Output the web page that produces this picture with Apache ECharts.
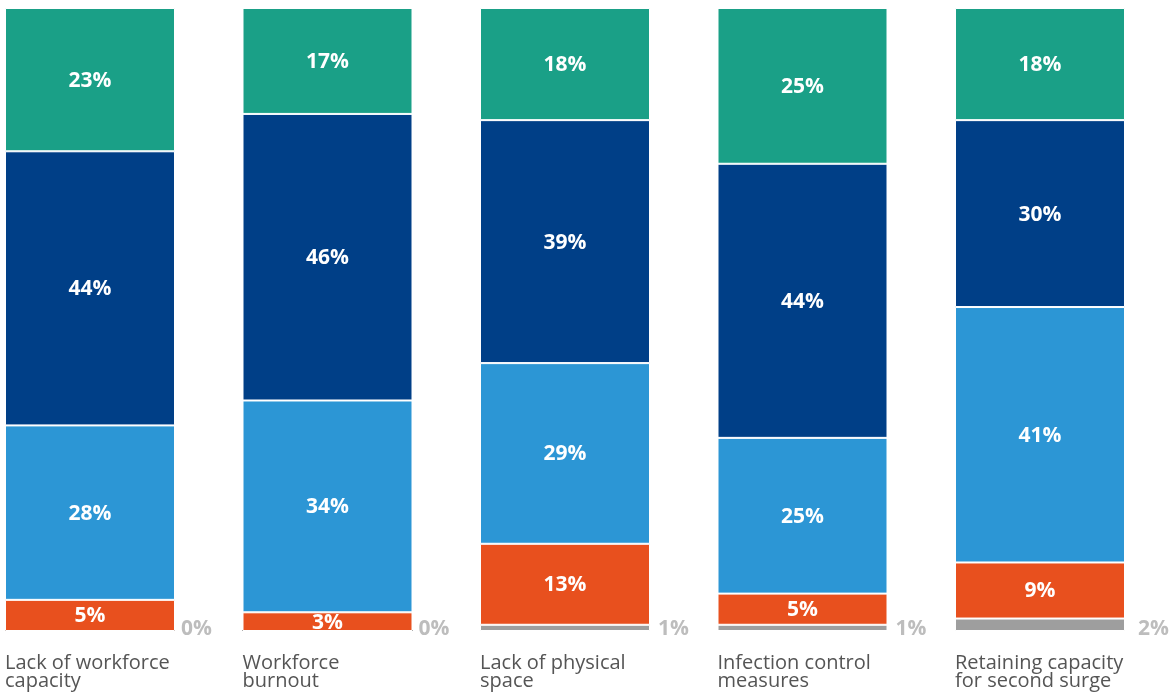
<!DOCTYPE html>
<html>
<head>
<meta charset="utf-8">
<script src="https://cdn.jsdelivr.net/npm/echarts@6/dist/echarts.min.js"></script>
<style>
html,body{margin:0;padding:0;background:#fff;}
#c{width:1172px;height:693px;}
</style>
</head>
<body>
<div id="c"></div>
<script>
const categories = [
  ['Lack of workforce', 'capacity'],
  ['Workforce', 'burnout'],
  ['Lack of physical', 'space'],
  ['Infection control', 'measures'],
  ['Retaining capacity', 'for second surge']
];
const grayVals = [0, 0, 1, 1, 2];
const orangeVals = [5, 3, 13, 5, 9];
const lightBlueVals = [28, 34, 29, 25, 41];
const darkBlueVals = [44, 46, 39, 44, 30];
const greenVals = [23, 17, 18, 25, 18];

const FONT = '"Open Sans", "Noto Sans", sans-serif';
const chart = echarts.init(document.getElementById('c'), null, {renderer: 'canvas'});

function seg(name, data, color) {
  return {
    name: name, type: 'bar', stack: 's', barWidth: 170,
    data: data,
    itemStyle: {color: color, borderColor: '#fff', borderWidth: 1},
    label: {show: true, position: 'inside', offset: [0, 1], formatter: '{c}%', color: '#fff',
            fontFamily: FONT, fontWeight: 'bold', fontSize: 21},
    emphasis: {disabled: true}, animation: false
  };
}

// style only: label nudges depend on the bar height drawn for each value
const grayData = grayVals.map(v => {
  if (v === 0) return {value: v, itemStyle: {color: '#222', borderWidth: 0}, label: {distance: 6, offset: [0, -1]}};
  if (v >= 2) return {value: v, label: {offset: [5, 4]}};
  return {value: v, label: {offset: [0, 1]}};
});

const option = {
  backgroundColor: '#fff',
  animation: false,
  grid: {left: -28.75, width: 1187.5, top: 8, height: 623, containLabel: false, outerBoundsMode: 'none'},
  xAxis: {
    type: 'category',
    data: categories.map(c => c.join('\n')),
    axisLine: {show: false}, axisTick: {show: false},
    axisLabel: {
      interval: 0, margin: 23, align: 'center', width: 170,
      formatter: function (v) {
        return v.split('\n').map(s => '{a|' + s + '}').join('\n');
      },
      rich: {a: {align: 'left', color: '#555', fontFamily: FONT, fontSize: 20, lineHeight: 18}}
    }
  },
  yAxis: {type: 'value', min: 0, max: 100, show: false},
  series: [
    {
      name: 'gray', type: 'bar', stack: 's', barWidth: 170, barMinHeight: 1,
      data: grayData,
      itemStyle: {color: '#9e9e9e', borderColor: '#fff', borderWidth: 1},
      label: {show: true, position: 'right', distance: 8, formatter: '{c}%',
              color: '#bdbdbd', fontFamily: FONT, fontWeight: 'bold', fontSize: 21},
      emphasis: {disabled: true}
    },
    seg('orange', orangeVals, '#e8501e'),
    seg('lightblue', lightBlueVals, '#2c96d5'),
    seg('darkblue', darkBlueVals, '#003f87'),
    seg('green', greenVals, '#1aa087')
  ]
};
chart.setOption(option);
</script>
</body>
</html>
